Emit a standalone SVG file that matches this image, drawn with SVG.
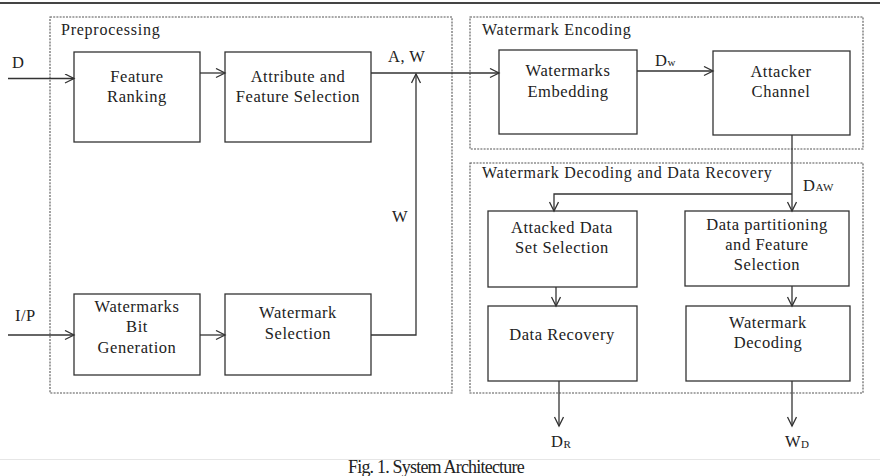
<svg xmlns="http://www.w3.org/2000/svg" width="880" height="476" viewBox="0 0 880 476">
<style>
.bg{fill:#ffffff}
.box{fill:#ffffff;stroke:#333;stroke-width:1.3}
.grp{fill:none;stroke:#555;stroke-width:1.1;stroke-dasharray:2,1.2}
.t{font-family:"Liberation Serif","Times New Roman",serif;font-size:16.5px;letter-spacing:0.55px;fill:#222;text-anchor:middle}
.g{font-family:"Liberation Serif","Times New Roman",serif;font-size:16px;letter-spacing:0.75px;fill:#222}
.l{font-family:"Liberation Serif","Times New Roman",serif;font-size:16.5px;letter-spacing:0.5px;fill:#222}
.s{font-size:11px}
.c{fill:none;stroke:#333;stroke-width:1.3}
.cap{font-family:"Liberation Serif","Times New Roman",serif;font-size:18px;letter-spacing:-0.8px;fill:#222}
</style>
<defs>
<marker id="ah" markerUnits="userSpaceOnUse" markerWidth="12" markerHeight="12" refX="10" refY="5" orient="auto">
<path d="M1,0.5 L10,5 L1,9.5" fill="none" stroke="#333" stroke-width="1.3"/>
</marker>
</defs>
<rect class="bg" x="0" y="0" width="880" height="476"/>
<line x1="0" y1="3" x2="880" y2="3" stroke="#444" stroke-width="2"/>
<line x1="0" y1="459.5" x2="880" y2="459.5" stroke="#e6e6e6" stroke-width="1"/>

<g id="preprocessing">
<rect class="grp" x="50" y="17" width="402" height="376"/>
<text class="g" x="61" y="35">Preprocessing</text>
</g>
<g id="watermark-encoding">
<rect class="grp" x="470" y="17" width="393" height="132"/>
<text class="g" x="482" y="35">Watermark Encoding</text>
</g>
<g id="watermark-decoding">
<rect class="grp" x="470" y="163" width="393" height="230"/>
<text class="g" x="482" y="178">Watermark Decoding and Data Recovery</text>
</g>

<g id="feature-ranking">
<rect class="box" x="74" y="52" width="126" height="90"/>
<text class="t" x="137" y="82">Feature</text>
<text class="t" x="137" y="102">Ranking</text>
</g>
<g id="attribute-feature-selection">
<rect class="box" x="225" y="52" width="146" height="90"/>
<text class="t" x="298" y="82">Attribute and</text>
<text class="t" x="298" y="102">Feature Selection</text>
</g>
<g id="watermarks-bit-generation">
<rect class="box" x="74" y="294" width="126" height="81"/>
<text class="t" x="137" y="312">Watermarks</text>
<text class="t" x="137" y="332">Bit</text>
<text class="t" x="137" y="353">Generation</text>
</g>
<g id="watermark-selection">
<rect class="box" x="225" y="294" width="146" height="81"/>
<text class="t" x="298" y="318">Watermark</text>
<text class="t" x="298" y="339">Selection</text>
</g>
<g id="watermarks-embedding">
<rect class="box" x="499" y="50" width="138" height="84"/>
<text class="t" x="568" y="76">Watermarks</text>
<text class="t" x="568" y="97">Embedding</text>
</g>
<g id="attacker-channel">
<rect class="box" x="713" y="51" width="137" height="84"/>
<text class="t" x="781" y="77">Attacker</text>
<text class="t" x="781" y="97">Channel</text>
</g>
<g id="attacked-data-set-selection">
<rect class="box" x="488" y="211" width="149" height="76"/>
<text class="t" x="562" y="233">Attacked Data</text>
<text class="t" x="562" y="253">Set Selection</text>
</g>
<g id="data-partitioning">
<rect class="box" x="685" y="211" width="164" height="75"/>
<text class="t" x="767" y="230">Data partitioning</text>
<text class="t" x="767" y="250">and Feature</text>
<text class="t" x="767" y="270">Selection</text>
</g>
<g id="data-recovery">
<rect class="box" x="488" y="306" width="149" height="75"/>
<text class="t" x="562" y="340">Data Recovery</text>
</g>
<g id="watermark-decoding-node">
<rect class="box" x="686" y="306" width="164" height="75"/>
<text class="t" x="768" y="328">Watermark</text>
<text class="t" x="768" y="348">Decoding</text>
</g>

<g id="connectors">
<path class="c" d="M8,78.5 H74" marker-end="url(#ah)"/>
<path class="c" d="M200,73 H225" marker-end="url(#ah)"/>
<path class="c" d="M371,73 H499" marker-end="url(#ah)"/>
<path class="c" d="M371,335 H416 V74" marker-end="url(#ah)"/>
<path class="c" d="M8,335 H74" marker-end="url(#ah)"/>
<path class="c" d="M200,335 H225" marker-end="url(#ah)"/>
<path class="c" d="M637,71 H713" marker-end="url(#ah)"/>
<path class="c" d="M792,135 V211" marker-end="url(#ah)"/>
<path class="c" d="M792,194 H554 V211" marker-end="url(#ah)"/>
<path class="c" d="M556,287 V306" marker-end="url(#ah)"/>
<path class="c" d="M792,286 V306" marker-end="url(#ah)"/>
<path class="c" d="M559,381 V426" marker-end="url(#ah)"/>
<path class="c" d="M792,381 V426" marker-end="url(#ah)"/>
<text class="l" x="12" y="68">D</text>
<text class="l" x="15" y="321">I/P</text>
<text class="l" x="388" y="62">A, W</text>
<text class="l" x="392" y="222">W</text>
<text class="l" x="655" y="66">D<tspan class="s">w</tspan></text>
<text class="l" x="803" y="191">D<tspan class="s">AW</tspan></text>
<text class="l" x="551" y="447">D<tspan class="s" dy="1">R</tspan></text>
<text class="l" x="785" y="447">W<tspan class="s" dy="1">D</tspan></text>
</g>
<text class="cap" x="348" y="473">Fig. 1. System Architecture</text>
</svg>
